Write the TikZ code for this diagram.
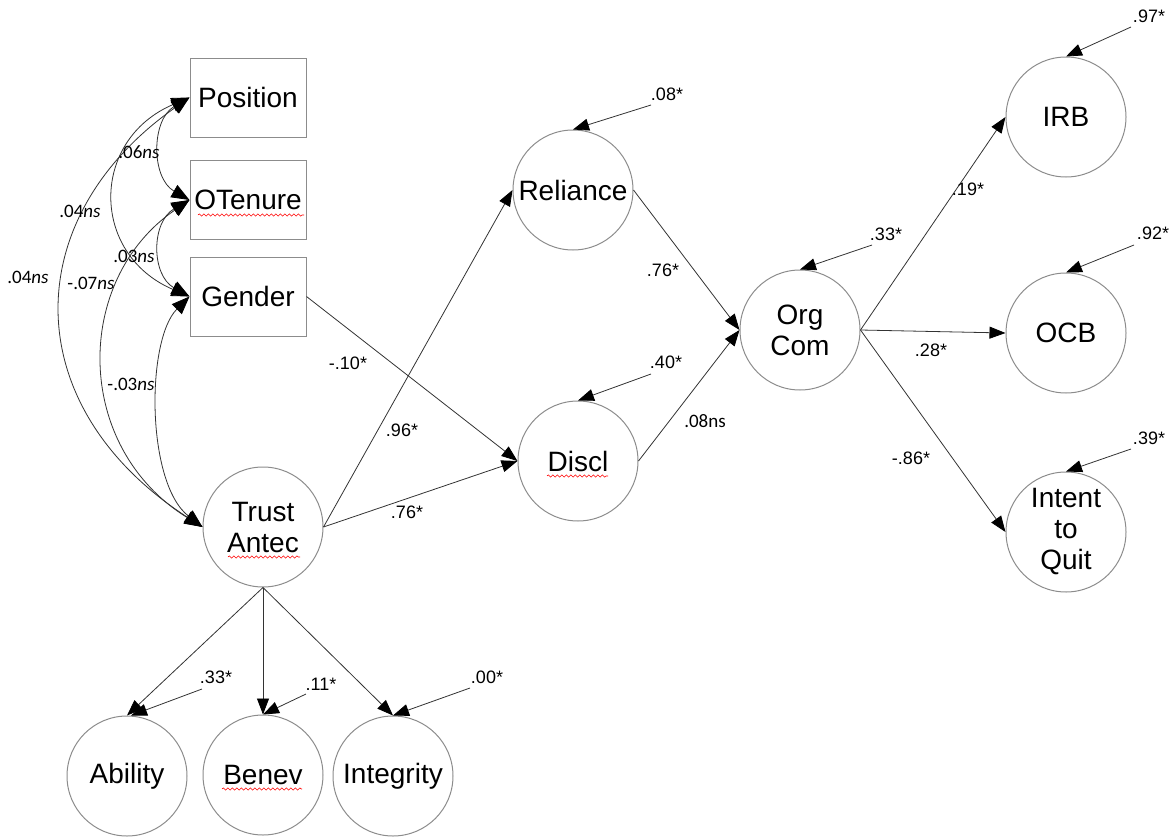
\documentclass[tikz,border=0pt]{standalone}
\usepackage{fontspec}
\setmainfont{Liberation Sans}
\newfontfamily\calib{Carlito}
\usetikzlibrary{arrows.meta,decorations.pathmorphing}
\definecolor{boxgray}{HTML}{8C8C8C}
\definecolor{linegray}{HTML}{333333}
\begin{document}
\begin{tikzpicture}[x=1pt,y=-1pt,
  every node/.style={font=\fontsize{28}{31}\selectfont, text=black},
  varbox/.style={draw=boxgray, line width=1pt, minimum width=116pt, minimum height=79pt, inner sep=0pt},
  latent/.style={circle, draw=boxgray, line width=1pt, minimum size=120pt, inner sep=0pt, align=center},
  reg/.style={draw=linegray, line width=0.8pt, -{Triangle[length=16pt,width=12pt,color=black]}},
  cov/.style={draw=linegray, line width=0.8pt, {Triangle[length=18pt,width=14pt,color=black]}-{Triangle[length=18pt,width=14pt,color=black]}},
  err/.style={draw=linegray, line width=0.8pt, -{Triangle[length=16pt,width=12pt,color=black]}},
  lab/.style={font=\fontsize{18}{20}\selectfont, inner sep=0pt},
  nslab/.style={font=\calib\fontsize{19}{21}\selectfont, inner sep=0pt},
  squig/.style={draw=red, line width=0.6pt, decorate, decoration={snake, amplitude=1.1pt, segment length=4.5pt}}
]
\useasboundingbox (0,0) rectangle (1171,838);

% observed variables
\node[varbox] (pos) at (248,97.5) {Position};
\node[varbox] (ote) at (248,200) {OTenure};
\node[varbox] (gen) at (248,296.5) {Gender};

% latent variables
\node[latent] (ta)  at (263,527) {Trust\\Antec};
\node[latent] (rel) at (573,190) {Reliance};
\node[latent] (dis) at (578,461) {Discl};
\node[latent] (org) at (800,330) {Org\\Com};
\node[latent] (irb) at (1066,117) {IRB};
\node[latent] (ocb) at (1066,333) {OCB};
\node[latent] (itq) at (1066,532) {Intent\\to\\Quit};
\node[latent] (abi) at (127,776) {Ability};
\node[latent] (ben) at (263,775) {Benev};
\node[latent] (int) at (393,776) {Integrity};

% spell-check squiggles
\draw[squig] (198,215) -- (304,215);
\draw[squig] (228,557) -- (300,557);
\draw[squig] (547,476) -- (608,476);
\draw[squig] (222,789) -- (302,789);

% covariances
\draw[cov] (pos.west) .. controls (151,120) and (151,178) .. (ote.west);
\draw[cov] (ote.west) .. controls (151,222) and (151,275) .. (gen.west);
\draw[cov] (pos.west) .. controls (90,140) and (90,254) .. (gen.west);
\draw[cov] (pos.west) .. controls (17,219) and (17,407) .. (ta.west);
\draw[cov] (ote.west) .. controls (73,280) and (73,447) .. (ta.west);
\draw[cov] (gen.west) .. controls (146,340) and (146,483) .. (ta.west);

\node[nslab] at (139,152) {.06\textit{ns}};
\node[nslab] at (80,211) {.04\textit{ns}};
\node[nslab] at (134,256) {.03\textit{ns}};
\node[nslab] at (28,277) {.04\textit{ns}};
\node[nslab] at (91,283) {-.07\textit{ns}};
\node[nslab] at (131,384) {-.03\textit{ns}};

% structural paths
\draw[reg] (gen.east) -- (dis.west);
\draw[reg] (ta.east) -- (rel.west);
\draw[reg] (ta.east) -- (dis.west);
\draw[reg] (rel.east) -- (org.west);
\draw[reg] (dis.east) -- (org.west);
\draw[reg] (org.east) -- (irb.west);
\draw[reg] (org.east) -- (ocb.west);
\draw[reg] (org.east) -- (itq.west);
\draw[reg] (ta.south) -- (abi.north);
\draw[reg] (ta.south) -- (ben.north);
\draw[reg] (ta.south) -- (int.north);

\node[lab] at (348,363) {-.10*};
\node[lab] at (402,430) {.96*};
\node[lab] at (407,512) {.76*};
\node[lab] at (663,270) {.76*};
\node[nslab] at (705,421) {.08ns};
\node[lab] at (968,189) {.19*};
\node[lab] at (931,350) {.28*};
\node[lab] at (911,458) {-.86*};

% error terms
\coordinate (erel) at (651,105);
\coordinate (edis) at (651,374);
\coordinate (eorg) at (872,245);
\coordinate (eirb) at (1131,27);
\coordinate (eocb) at (1134,245);
\coordinate (eitq) at (1131,449);
\coordinate (eabi) at (202,689);
\coordinate (eben) at (306,694);
\coordinate (eint) at (470,688);
\draw[err] (erel) -- (rel.north);
\draw[err] (edis) -- (dis.north);
\draw[err] (eorg) -- (org.north);
\draw[err] (eirb) -- (irb.north);
\draw[err] (eocb) -- (ocb.north);
\draw[err] (eitq) -- (itq.north);
\draw[err] (eabi) -- ([xshift=4pt]abi.north);
\draw[err] (eben) -- (ben.north);
\draw[err] (eint) -- (int.north);

\node[lab] at (667,94) {.08*};
\node[lab] at (666,362) {.40*};
\node[lab] at (886,234) {.33*};
\node[lab] at (1149,16) {.97*};
\node[lab] at (1153,233) {.92*};
\node[lab] at (1149,438) {.39*};
\node[lab] at (216,677) {.33*};
\node[lab] at (321,684) {.11*};
\node[lab] at (487,677) {.00*};
\end{tikzpicture}
\end{document}
